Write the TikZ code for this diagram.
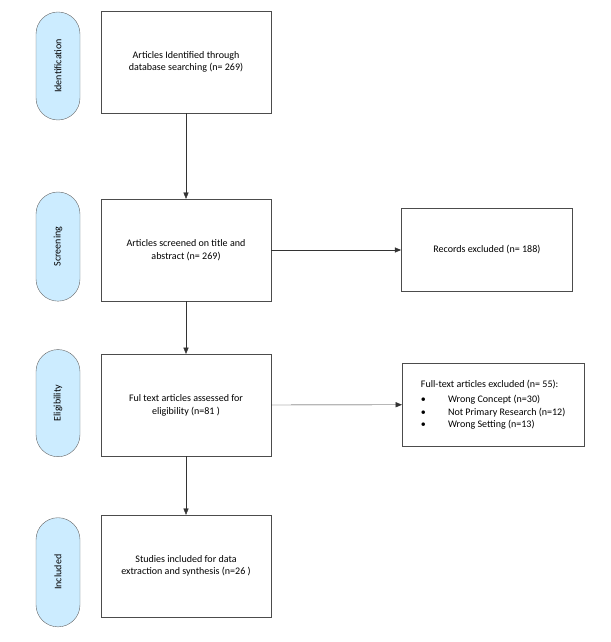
\documentclass[tikz,border=0pt]{standalone}
\usepackage{fontspec}
\setmainfont{Carlito}
\usetikzlibrary{positioning,arrows.meta}
\definecolor{stageblue}{RGB}{204,236,255}
\tikzset{
    box/.style={draw=black!70, minimum width=5.95cm, minimum height=3.57cm, align=center, font=\fontsize{10}{12.5}\selectfont},
    stage/.style={draw=black!60, fill=stageblue, rotate=90, minimum height=1.54cm, rounded corners=0.77cm, font=\fontsize{10}{12}\selectfont},
    flow/.style={-{Triangle[length=2.2mm,width=1.8mm]}, black!80}
}
\begin{document}
\begin{tikzpicture}
    \useasboundingbox (0,0) rectangle (21.35,-22.47);

    % Stage labels on the left
    \node[stage, minimum width=3.78cm] (ident) at (2.03,-2.31) {Identification};
    \node[stage, minimum width=3.82cm] (screen) at (2.03,-8.63) {Screening};
    \node[stage, minimum width=3.75cm] (elig) at (2.03,-14.11) {Eligibility};
    \node[stage, minimum width=3.82cm] (incl) at (2.03,-20.03) {Included};

    % Main boxes
    \node[box] (found) at (6.51,-2.17) {Articles Identified through\\database searching (n= 269)};
    \node[box] (screened) at (6.51,-8.75) {Articles screened on title and\\abstract (n= 269)};
    \node[box] (assessed) at (6.51,-14.18) {Ful text articles assessed for\\eligibility (n=81 )};
    \node[box] (included) at (6.51,-19.81) {Studies included for data\\extraction and synthesis (n=26 )};

    % Excluded boxes
    \node[box, minimum width=5.99cm, minimum height=2.9cm] (records) at (17.04,-8.75) {Records excluded (n= 188)};
    \node[box, minimum width=6.37cm, minimum height=2.9cm, align=left, inner sep=3pt] (fulltext) at (17.26,-14.16)
        {Full-text articles excluded (n= 55):\\[3pt]
         \textbullet\hspace{2.2em}Wrong Concept (n=30)\\
         \textbullet\hspace{2.2em}Not Primary Research (n=12)\\
         \textbullet\hspace{2.2em}Wrong Setting (n=13)};

    % Arrows
    \draw[flow] (found) -- (screened);
    \draw[flow] (screened) -- (assessed);
    \draw[flow] (assessed) -- (included);
    \draw[flow] (screened) -- (records);
    \draw[flow] (assessed) -- (fulltext);
\end{tikzpicture}
\end{document}
